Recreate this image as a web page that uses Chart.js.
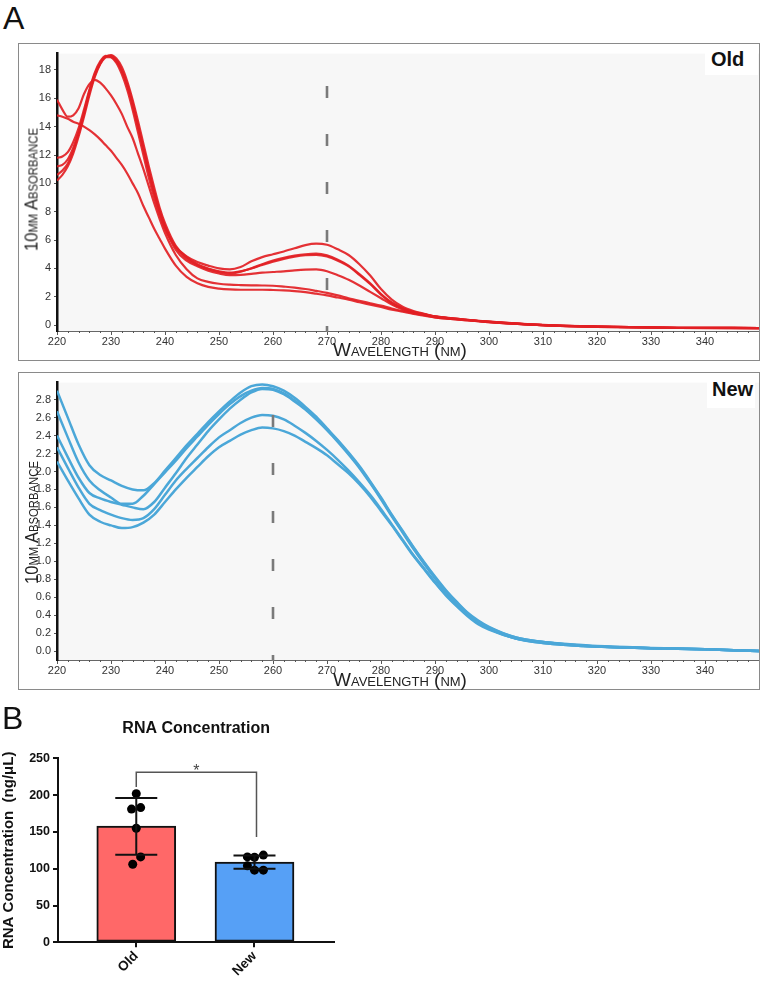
<!DOCTYPE html>
<html>
<head>
<meta charset="utf-8">
<script src="https://cdn.jsdelivr.net/npm/chart.js@4.4.1/dist/chart.umd.min.js"></script>
<style>
body { margin: 0; width: 762px; height: 981px; position: relative; overflow: hidden; background: #fff; font-family: 'Liberation Sans', Arial, sans-serif; }
.letter { position: absolute; font-size: 32px; line-height: 32px; color: #111; }
.frame { position: absolute; left: 18px; width: 742px; height: 318px; border: 1px solid #8a8a8a; box-sizing: border-box; }
.frame canvas { position: absolute; left: 0; top: 0; }
.tag { position: absolute; box-sizing: border-box; background: #fff; font-weight: bold; font-size: 20px; line-height: 20px; color: #111; }
.ytitle { position: absolute; width: 200px; height: 19px; line-height: 19px; font-size: 19px; text-align: center; font-variant: small-caps; transform: rotate(-90deg) scaleX(0.87); color: #222; white-space: nowrap; }
.xtitle { position: absolute; left: 300px; width: 200px; height: 19px; line-height: 19px; font-size: 19px; text-align: center; font-variant: small-caps; color: #222; white-space: nowrap; }
#barBox { position: absolute; left: 0; top: 700px; }
</style>
</head>
<body>

<div class="letter" style="left:3px; top:2px;">A</div>

<div class="frame" style="top:43px;"><canvas id="oldChart" width="740" height="316"></canvas></div>
<div class="tag" style="left:705px; top:47px; width:53px; height:28px; padding:2px 0 0 6px;">Old</div>
<div class="ytitle" style="left:-69px; top:180px;">10mm Absorbance</div>
<div class="xtitle" style="top:340px;">Wavelength (nm)</div>

<div class="frame" style="top:372px;"><canvas id="newChart" width="740" height="316"></canvas></div>
<div class="tag" style="left:707px; top:378px; width:48px; height:30px; padding:1px 0 0 5px;">New</div>
<div class="ytitle" style="left:-69px; top:513px;">10mm Absorbance</div>
<div class="xtitle" style="top:670px;">Wavelength (nm)</div>

<div class="letter" style="left:2px; top:702px;">B</div>
<div id="barBox"><canvas id="barChart" width="345" height="281"></canvas></div>

<script>
// spectra, panel A (top: old kit)
var oldWavelengths = [220, 221, 222, 223, 224, 225, 226, 227, 228, 229, 230, 231, 232, 233, 234, 235, 236, 237, 238, 239, 240,
    242, 244, 246, 248, 250, 252, 254, 256, 258, 260, 262, 264, 266, 268, 270, 272, 274, 276, 278, 280, 282, 284, 286, 288, 290,
    295, 300, 310, 320, 335, 350];

var oldSampleA = [11.8, 11.9, 12.2, 12.9, 13.9, 15.2, 16.6, 17.8, 18.6, 19.0, 18.9, 18.5, 17.7, 16.6, 15.2, 13.6, 12.0, 10.4, 9.0, 7.8, 6.8,
    5.5, 4.85, 4.45, 4.2, 4.0, 3.93, 4.1, 4.5, 4.8, 5.0, 5.2, 5.42, 5.65, 5.75, 5.67, 5.35, 4.95, 4.3, 3.5, 2.55, 1.8, 1.3, 1.0, 0.8, 0.62,
    0.42, 0.26, 0.02, -0.1, -0.18, -0.2];
var oldSampleB = [11.2, 11.3, 11.7, 12.5, 13.6, 15.0, 16.5, 17.7, 18.5, 18.95, 19.0, 18.7, 18.0, 17.0, 15.7, 14.1, 12.5, 10.9, 9.4, 8.1, 7.0,
    5.5, 4.7, 4.25, 3.95, 3.75, 3.65, 3.78, 4.02, 4.3, 4.55, 4.75, 4.9, 5.0, 5.04, 4.92, 4.62, 4.2, 3.6, 2.95, 2.2, 1.6, 1.2, 0.95, 0.78, 0.62,
    0.42, 0.25, 0.0, -0.12, -0.2, -0.22];
var oldSampleC = [10.2, 10.6, 11.2, 12.1, 13.3, 14.7, 16.2, 17.5, 18.4, 18.9, 19.05, 18.8, 18.2, 17.2, 15.9, 14.4, 12.8, 11.2, 9.7, 8.3, 7.2,
    5.6, 4.8, 4.3, 4.0, 3.8, 3.7, 3.8, 4.0, 4.25, 4.48, 4.68, 4.83, 4.93, 4.96, 4.85, 4.55, 4.15, 3.55, 2.9, 2.15, 1.55, 1.18, 0.93, 0.76, 0.6,
    0.4, 0.24, 0.0, -0.12, -0.2, -0.22];
var oldSampleD = [10.6, 10.9, 11.4, 12.3, 13.5, 14.9, 16.4, 17.6, 18.45, 18.9, 18.9, 18.6, 17.9, 16.9, 15.5, 14.0, 12.4, 10.8, 9.3, 8.0, 6.9,
    5.3, 4.55, 4.15, 3.85, 3.65, 3.53, 3.55, 3.62, 3.7, 3.75, 3.8, 3.87, 3.92, 3.93, 3.8, 3.52, 3.2, 2.8, 2.35, 1.9, 1.45, 1.1, 0.9, 0.75, 0.6,
    0.4, 0.24, 0.0, -0.1, -0.18, -0.2];
var oldSampleE = [15.9, 15.2, 14.7, 14.8, 15.3, 16.3, 17.0, 17.3, 17.1, 16.7, 16.2, 15.6, 14.9, 14.0, 13.2, 12.1, 11.0, 9.8, 8.6, 7.5, 6.5,
    4.95, 3.95, 3.3, 3.05, 2.92, 2.86, 2.83, 2.81, 2.8, 2.78, 2.72, 2.65, 2.55, 2.42, 2.28, 2.1, 1.9, 1.72, 1.55, 1.38, 1.18, 1.0, 0.85, 0.7, 0.55,
    0.38, 0.22, 0.0, -0.1, -0.18, -0.2];
var oldSampleF = [14.8, 14.7, 14.55, 14.35, 14.2, 14.0, 13.75, 13.45, 13.1, 12.7, 12.3, 11.8, 11.3, 10.7, 10.0, 9.3, 8.4, 7.6, 6.8, 6.1, 5.4,
    4.2, 3.4, 2.95, 2.7, 2.58, 2.52, 2.5, 2.5, 2.5, 2.48, 2.45, 2.4, 2.33, 2.22, 2.1, 1.95, 1.8, 1.62, 1.45, 1.28, 1.1, 0.95, 0.8, 0.67, 0.55,
    0.38, 0.22, 0.0, -0.1, -0.18, -0.2];

// spectra, panel A (bottom: new kit)
var newWavelengths = [220, 222, 224, 226, 228, 230, 232, 234, 236, 238, 240, 242, 244, 246, 248, 250, 252, 254, 256, 258,
    260, 262, 264, 266, 268, 270, 272, 274, 276, 278, 280, 282, 284, 286, 288, 290, 292, 294, 296, 298, 300,
    305, 310, 315, 320, 330, 340, 350];

var newSampleA = [2.9, 2.6, 2.3, 2.07, 1.96, 1.9, 1.84, 1.8, 1.79, 1.87, 2.01, 2.15, 2.29, 2.42, 2.55, 2.67, 2.78, 2.88, 2.95, 2.97,
    2.95, 2.9, 2.82, 2.72, 2.61, 2.48, 2.35, 2.21, 2.06, 1.89, 1.71, 1.52, 1.34, 1.16, 0.99, 0.83, 0.68, 0.55, 0.43, 0.34, 0.27,
    0.15, 0.1, 0.075, 0.055, 0.035, 0.02, 0.0];
var newSampleB = [2.67, 2.38, 2.1, 1.9, 1.79, 1.71, 1.64, 1.64, 1.73, 1.86, 1.99, 2.12, 2.26, 2.39, 2.52, 2.64, 2.75, 2.84, 2.9, 2.93,
    2.92, 2.87, 2.79, 2.7, 2.59, 2.47, 2.34, 2.2, 2.05, 1.88, 1.7, 1.51, 1.33, 1.15, 0.98, 0.82, 0.67, 0.54, 0.42, 0.33, 0.26,
    0.15, 0.1, 0.07, 0.05, 0.03, 0.02, 0.0];
var newSampleC = [2.4, 2.16, 1.93, 1.76, 1.7, 1.66, 1.63, 1.6, 1.58, 1.66, 1.82, 1.98, 2.15, 2.3, 2.45, 2.58, 2.7, 2.8, 2.88, 2.92,
    2.91, 2.86, 2.78, 2.69, 2.58, 2.46, 2.33, 2.19, 2.04, 1.87, 1.69, 1.5, 1.32, 1.14, 0.97, 0.81, 0.66, 0.53, 0.41, 0.32, 0.25,
    0.14, 0.1, 0.07, 0.05, 0.03, 0.02, 0.0];
var newSampleD = [2.27, 2.04, 1.82, 1.64, 1.57, 1.52, 1.48, 1.46, 1.48, 1.58, 1.74, 1.9, 2.03, 2.15, 2.27, 2.38, 2.46, 2.54, 2.6, 2.63,
    2.62, 2.58, 2.51, 2.43, 2.34, 2.24, 2.13, 2.01, 1.88, 1.74, 1.58, 1.41, 1.24, 1.07, 0.92, 0.77, 0.63, 0.51, 0.4, 0.31, 0.25,
    0.14, 0.09, 0.065, 0.05, 0.03, 0.02, 0.0];
var newSampleE = [2.11, 1.9, 1.7, 1.52, 1.44, 1.4, 1.37, 1.38, 1.43, 1.52, 1.66, 1.8, 1.93, 2.05, 2.17, 2.27, 2.34, 2.41, 2.46, 2.49,
    2.48, 2.45, 2.4, 2.33, 2.26, 2.18, 2.08, 1.98, 1.86, 1.72, 1.56, 1.4, 1.23, 1.06, 0.91, 0.76, 0.62, 0.5, 0.39, 0.3, 0.24,
    0.14, 0.09, 0.065, 0.05, 0.03, 0.02, 0.0];

var wavelengthTicks = [220, 230, 240, 250, 260, 270, 280, 290, 300, 310, 320, 330, 340];
var oldAbsTicks = [0, 2, 4, 6, 8, 10, 12, 14, 16, 18];
var newAbsTicks = [0, 0.2, 0.4, 0.6, 0.8, 1.0, 1.2, 1.4, 1.6, 1.8, 2.0, 2.2, 2.4, 2.6, 2.8];
var oldPeakMarker = 270;
var newPeakMarker = 260;

// panel B
var groups = ['Old', 'New'];
var groupMeans = [158, 109];
var sdLow = [119, 100];
var sdHigh = [196, 118];
var oldPoints = [202, 181, 183, 155, 116, 106];
var oldJitter = [0, -0.04, 0.037, 0, 0.037, -0.03];
var newPoints = [116, 115.5, 118.5, 104, 98, 98];
var newJitter = [-0.06, 0, 0.075, -0.06, 0, 0.075];
var concTicks = [0, 50, 100, 150, 200, 250];
var bracketTop = 231, bracketLeftEnd = 211, bracketRightEnd = 143;

Chart.defaults.font.family = "'Liberation Sans', Arial, sans-serif";

var spectrumPlugin = {
    id: 'spectrum',
    beforeDraw: function (chart) {
        var a = chart.chartArea;
        var ctx = chart.ctx;
        ctx.save();
        ctx.fillStyle = '#f7f7f7';
        ctx.fillRect(a.left, a.top, a.right - a.left, a.bottom - a.top);
        ctx.restore();
    },
    afterDatasetsDraw: function (chart, args, opts) {
        var a = chart.chartArea;
        var ctx = chart.ctx;
        var x = chart.scales.x.getPixelForValue(opts.marker);
        ctx.save();
        ctx.strokeStyle = '#7a7a7a';
        ctx.lineWidth = 2.6;
        ctx.setLineDash([12, 36]);
        ctx.lineDashOffset = 6;
        ctx.beginPath();
        ctx.moveTo(x, a.bottom + 1);
        ctx.lineTo(x, a.top);
        ctx.stroke();
        ctx.restore();
    },
    afterDraw: function (chart) {
        // minor ticks every 2 nm
        var a = chart.chartArea;
        var ctx = chart.ctx;
        var xs = chart.scales.x;
        ctx.save();
        ctx.strokeStyle = '#555';
        ctx.lineWidth = 1;
        ctx.beginPath();
        for (var w = xs.min; w <= xs.max; w += 2) {
            if (w % 10 === 0) continue;
            var px = Math.round(xs.getPixelForValue(w)) + 0.5;
            ctx.moveTo(px, a.bottom);
            ctx.lineTo(px, a.bottom + 2);
        }
        ctx.stroke();
        ctx.restore();
    }
};

function spectrumChart(id, wavelengths, series, color, lineWidth, yMin, yMax, yTicks, digits, marker) {
    var datasets = series.map(function (s) {
        return {
            data: wavelengths.map(function (w, i) { return { x: w, y: s[i] }; }),
            borderColor: color,
            borderWidth: lineWidth,
            pointRadius: 0,
            cubicInterpolationMode: 'monotone',
            fill: false
        };
    });
    return new Chart(document.getElementById(id), {
        type: 'line',
        data: { datasets: datasets },
        options: {
            responsive: false,
            animation: false,
            events: [],
            layout: { padding: 0 },
            plugins: {
                legend: { display: false },
                tooltip: { enabled: false },
                spectrum: { marker: marker }
            },
            scales: {
                x: {
                    type: 'linear',
                    min: 220,
                    max: 350,
                    afterBuildTicks: function (s) { s.ticks = wavelengthTicks.map(function (v) { return { value: v }; }); },
                    afterFit: function (s) { s.height = 29; },
                    ticks: { autoSkip: false, maxRotation: 0, padding: 0, color: '#333', font: { size: 11 } },
                    grid: { drawOnChartArea: false, tickLength: 4, color: '#555' },
                    border: { color: '#666', width: 1 }
                },
                y: {
                    type: 'linear',
                    min: yMin,
                    max: yMax,
                    afterBuildTicks: function (s) { s.ticks = yTicks.map(function (v) { return { value: v }; }); },
                    afterFit: function (s) { s.width = 38; },
                    ticks: {
                        autoSkip: false, padding: 3, color: '#333', font: { size: 11 },
                        callback: function (v) { return v.toFixed(digits); }
                    },
                    grid: { drawOnChartArea: false, tickLength: 3, color: '#555' },
                    border: { color: '#111', width: 2.5 }
                }
            }
        },
        plugins: [spectrumPlugin]
    });
}

spectrumChart('oldChart', oldWavelengths,
    [oldSampleA, oldSampleB, oldSampleC, oldSampleD, oldSampleE, oldSampleF],
    'rgba(226, 32, 36, 0.92)', 2.2, -0.41, 19.15, oldAbsTicks, 0, oldPeakMarker);

spectrumChart('newChart', newWavelengths,
    [newSampleA, newSampleB, newSampleC, newSampleD, newSampleE],
    '#4ba7d8', 2.5, -0.1, 2.99, newAbsTicks, 1, newPeakMarker);

// error bars + significance bracket
var statsPlugin = {
    id: 'stats',
    afterDatasetsDraw: function (chart) {
        var ctx = chart.ctx;
        var xs = chart.scales.x;
        var ys = chart.scales.y;
        ctx.save();
        ctx.strokeStyle = '#111';
        ctx.lineWidth = 2;
        for (var i = 0; i < groups.length; i++) {
            var cx = xs.getPixelForValue(i);
            var lo = ys.getPixelForValue(sdLow[i]);
            var hi = ys.getPixelForValue(sdHigh[i]);
            ctx.beginPath();
            ctx.moveTo(cx, lo); ctx.lineTo(cx, hi);
            ctx.moveTo(cx - 21, lo); ctx.lineTo(cx + 21, lo);
            ctx.moveTo(cx - 21, hi); ctx.lineTo(cx + 21, hi);
            ctx.stroke();
        }
        var x0 = xs.getPixelForValue(0);
        var x1 = xs.getPixelForValue(1) + 2;
        var yb = ys.getPixelForValue(bracketTop);
        ctx.strokeStyle = '#555';
        ctx.lineWidth = 1.5;
        ctx.beginPath();
        ctx.moveTo(x0, ys.getPixelForValue(bracketLeftEnd));
        ctx.lineTo(x0, yb);
        ctx.lineTo(x1, yb);
        ctx.lineTo(x1, ys.getPixelForValue(bracketRightEnd));
        ctx.stroke();
        ctx.fillStyle = '#444';
        ctx.font = "16px 'Liberation Sans', Arial, sans-serif";
        ctx.textAlign = 'center';
        ctx.textBaseline = 'alphabetic';
        ctx.fillText('*', (x0 + x1) / 2, yb + 3.5);
        ctx.restore();
    }
};

var pointData = [];
oldPoints.forEach(function (v, i) { pointData.push({ x: 0 + oldJitter[i], y: v }); });
newPoints.forEach(function (v, i) { pointData.push({ x: 1 + newJitter[i], y: v }); });

new Chart(document.getElementById('barChart'), {
    type: 'bar',
    data: {
        datasets: [
            {
                type: 'scatter',
                data: pointData,
                pointRadius: 4.5,
                pointBackgroundColor: '#000',
                pointBorderWidth: 0,
                order: 0
            },
            {
                type: 'bar',
                data: groups.map(function (g, i) { return { x: i, y: groupMeans[i] }; }),
                backgroundColor: ['#ff6868', '#56a0f6'],
                borderColor: '#111',
                borderWidth: 2,
                borderSkipped: false,
                barThickness: 79,
                order: 1
            }
        ]
    },
    options: {
        responsive: false,
        animation: false,
        events: [],
        layout: { padding: { right: 10.7 } },
        plugins: {
            legend: { display: false },
            tooltip: { enabled: false },
            title: {
                display: true,
                fullSize: false,
                text: 'RNA Concentration',
                color: '#111',
                font: { size: 16, weight: 'bold' },
                padding: { top: 19.2, bottom: 19.9 }
            }
        },
        scales: {
            x: {
                type: 'linear',
                min: -0.662,
                max: 1.675,
                offset: false,
                afterBuildTicks: function (s) { s.ticks = groups.map(function (g, i) { return { value: i }; }); },
                afterFit: function (s) { s.height = 38.7; },
                ticks: {
                    autoSkip: false, minRotation: 45, maxRotation: 45, padding: 1, color: '#111',
                    font: { size: 13.5, weight: 'bold' },
                    callback: function (v) { return groups[v]; }
                },
                grid: { drawOnChartArea: false, offset: false, tickLength: 5, color: '#111', lineWidth: 2 },
                border: { color: '#111', width: 2 }
            },
            y: {
                min: 0,
                max: 250,
                afterBuildTicks: function (s) { s.ticks = concTicks.map(function (v) { return { value: v }; }); },
                afterFit: function (s) { s.width = 58; },
                title: {
                    display: true,
                    text: 'RNA Concentration  (ng/\u03bcL)',
                    color: '#111',
                    font: { size: 15, weight: 'bold' },
                    padding: { top: 0, bottom: 0 }
                },
                ticks: { autoSkip: false, padding: 3, color: '#111', font: { size: 12.5, weight: 'bold' } },
                grid: { drawOnChartArea: false, tickLength: 5, color: '#111', lineWidth: 2 },
                border: { color: '#111', width: 2 }
            }
        }
    },
    plugins: [statsPlugin]
});
</script>
</body>
</html>
